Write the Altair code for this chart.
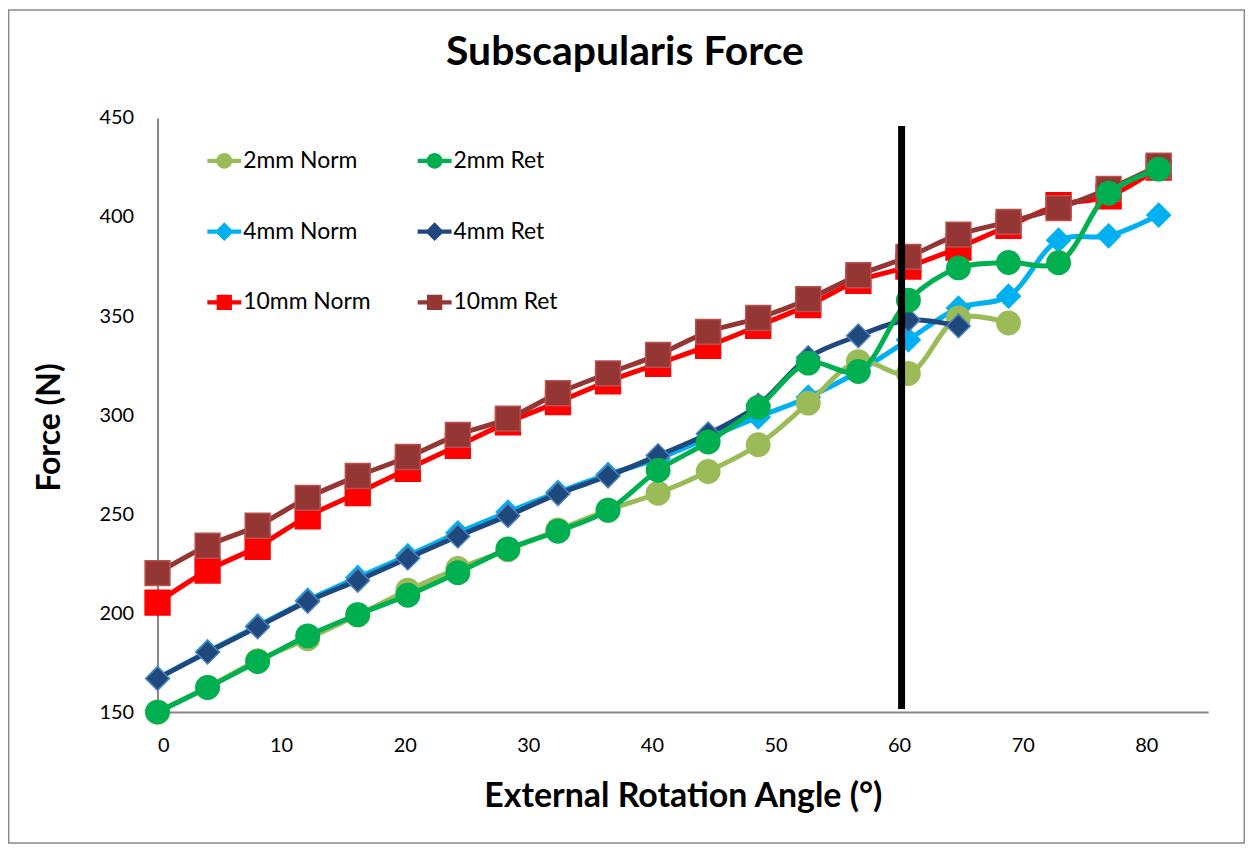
import altair as alt
import pandas as pd

# ---------------- data ----------------
angle = [0, 4.05, 8.1, 12.15, 16.2, 20.25, 24.3, 28.35, 32.4, 36.45, 40.5,
         44.55, 48.6, 52.65, 56.7, 60.75, 64.8, 68.85, 72.9, 76.95, 81.0]

norm_2mm = [150, 162.5, 176, 187, 199, 211.5, 222.5, 232, 242, 252, 260.5,
            271.5, 285, 306, 327, 321, 349, 346.5]
ret_2mm = [150, 162.4, 175.5, 188.5, 199.2, 209, 220.4, 232.4, 241.3, 251.9, 272.1,
           286.4, 303.9, 326.2, 322, 358, 374.3, 377, 376.9, 412, 424.2]
norm_4mm = [167, 180.5, 193.5, 206.5, 218, 229, 240.5, 251, 261, 270, 278,
            288.5, 299, 309, 322, 338, 354, 360, 388.3, 390.5, 401]
ret_4mm = [167, 180.2, 193, 205.9, 216.5, 227.7, 238.8, 249.2, 260.2, 269.2, 279.5,
           290.5, 305, 329, 340, 348, 345]
norm_10mm = [205.3, 221.5, 233.5, 248.8, 260.6, 272.8, 284.5, 296.3, 306.5, 317, 325.9,
             334.9, 345, 355.5, 367.8, 375, 384.5, 395.5, 406, 410.5, 425]
ret_10mm = [220.2, 234, 244.1, 258.2, 269.2, 278.8, 290, 298.2, 311, 321, 330.4,
            342, 349, 358.5, 370.6, 379.9, 391.1, 397.5, 404.5, 414.2, 425.9]

series_names = ["2mm Norm", "2mm Ret", "4mm Norm", "4mm Ret", "10mm Norm", "10mm Ret"]
series_values = [norm_2mm, ret_2mm, norm_4mm, ret_4mm, norm_10mm, ret_10mm]

marker_line_x = [60.2]
marker_line_top = [446]
marker_line_bottom = [151.5]

x_ticks = [0, 10, 20, 30, 40, 50, 60, 70, 80]
y_ticks = [150, 200, 250, 300, 350, 400, 450]

# ---------------- styles ----------------
colors = ["#9BBB59", "#00B050", "#00B0F0", "#1F497D", "#FF0000", "#943634"]
edge = ["#9BBB59", "#00B050", "#00B0F0", "#4F81BD", "#FF0000", "#B9504D"]
shapes = ["circle", "circle", "diamond", "diamond", "square", "square"]
sizes = [550, 550, 560, 560, 620, 620]
draw_order = ["10mm Norm", "4mm Norm", "2mm Norm", "10mm Ret", "4mm Ret", "2mm Ret"]

LINE = "M-1,-0.12H1V0.12H-1Z"
legend_paths = {
    "circle": LINE + "M0.47,0A0.47,0.47 0 1,1 -0.47,0A0.47,0.47 0 1,1 0.47,0Z",
    "diamond": LINE + "M0,-0.55L0.55,0L0,0.55L-0.55,0Z",
    "square": LINE + "M-0.45,-0.45H0.45V0.45H-0.45Z",
}

FONT = "Lato"

rows = []
for name, vals in zip(series_names, series_values):
    for a, v in zip(angle, vals):
        rows.append({"series": name, "angle": a, "force": v})
df = pd.DataFrame(rows)

xscale = alt.Scale(domain=[0, 85], nice=False, zero=False)
yscale = alt.Scale(domain=[150, 450], nice=False, zero=False)

xaxis = alt.Axis(values=x_ticks, title="External Rotation Angle (°)", grid=False, ticks=False,
                 domainColor="#868686", domainWidth=2, labelFont=FONT, labelFontSize=20,
                 labelColor="black", labelPadding=24, titleFont=FONT, titleFontSize=34,
                 titleFontWeight="bold", titleColor="black", titleY=95,
                 titleBaseline="alphabetic")
yaxis = alt.Axis(values=y_ticks, title="Force (N)", grid=False, ticks=False,
                 domainColor="#868686", domainWidth=2, labelFont=FONT, labelFontSize=20,
                 labelColor="black", labelPadding=24, titleFont=FONT, titleFontSize=32,
                 titleFontWeight="bold", titleColor="black", titleX=-108, titleY=310,
                 titleAngle=270, titleBaseline="middle", titleAlign="center")

X = alt.X("angle:Q", scale=xscale, axis=xaxis)
Y = alt.Y("force:Q", scale=yscale, axis=yaxis)

layers = []
for name in draw_order:
    i = series_names.index(name)
    base = alt.Chart(df).transform_filter(alt.datum.series == name)
    layers.append(base.mark_line(color=colors[i], strokeWidth=5,
                                 interpolate="catmull-rom").encode(x=X, y=Y))
    layers.append(base.mark_point(filled=True, shape=shapes[i], size=sizes[i],
                                  fill=colors[i], stroke=edge[i], strokeWidth=1.5,
                                  opacity=1).encode(x=X, y=Y))

leg = alt.Legend(orient="none", legendX=50, legendY=26, columns=2, direction="horizontal",
                 title=None, symbolSize=1156, symbolOpacity=1, symbolStrokeWidth=0,
                 labelFont=FONT, labelFontSize=23, labelColor="black", labelOffset=2,
                 rowPadding=42, columnPadding=47, padding=0, labelLimit=400)
legend_layer = alt.Chart(df).mark_point(filled=True, opacity=0).encode(
    x=X, y=Y,
    color=alt.Color("series:N", scale=alt.Scale(domain=series_names, range=colors), legend=leg),
    shape=alt.Shape("series:N", scale=alt.Scale(domain=series_names,
                                                range=[legend_paths[s] for s in shapes]),
                    legend=leg),
)
layers.append(legend_layer)

rule_df = pd.DataFrame({"x": marker_line_x, "y1": marker_line_top, "y2": marker_line_bottom})
rule = alt.Chart(rule_df).mark_rule(color="black", strokeWidth=7).encode(
    x=alt.X("x:Q", scale=xscale, axis=xaxis),
    y=alt.Y("y1:Q", scale=yscale, axis=yaxis),
    y2="y2:Q",
)
layers.append(rule)

border = alt.Chart(pd.DataFrame({"a": [0]})).mark_rect(
    fillOpacity=0, stroke="#8A8A8A", strokeWidth=1.5, clip=False
).encode(x=alt.value(-149.3), x2=alt.value(1054 + 36.3), y=alt.value(-108.3), y2=alt.value(596 + 131.3))
layers.append(border)

chart = alt.layer(*layers).resolve_scale(
    color="independent", shape="independent"
).properties(
    width=1054, height=596,
    padding={"left": 150, "top": 109, "right": 37, "bottom": 132},
    autosize=alt.AutoSizeParams(type="none"),
    title=alt.TitleParams("Subscapularis Force", font=FONT, fontSize=41, fontWeight="bold",
                          color="black", anchor="middle", dx=-58, frame="group",
                          baseline="alphabetic", offset=-97),
).configure_view(stroke=None)

chart.save("out.html", embed_options={"renderer": "svg", "actions": False})
